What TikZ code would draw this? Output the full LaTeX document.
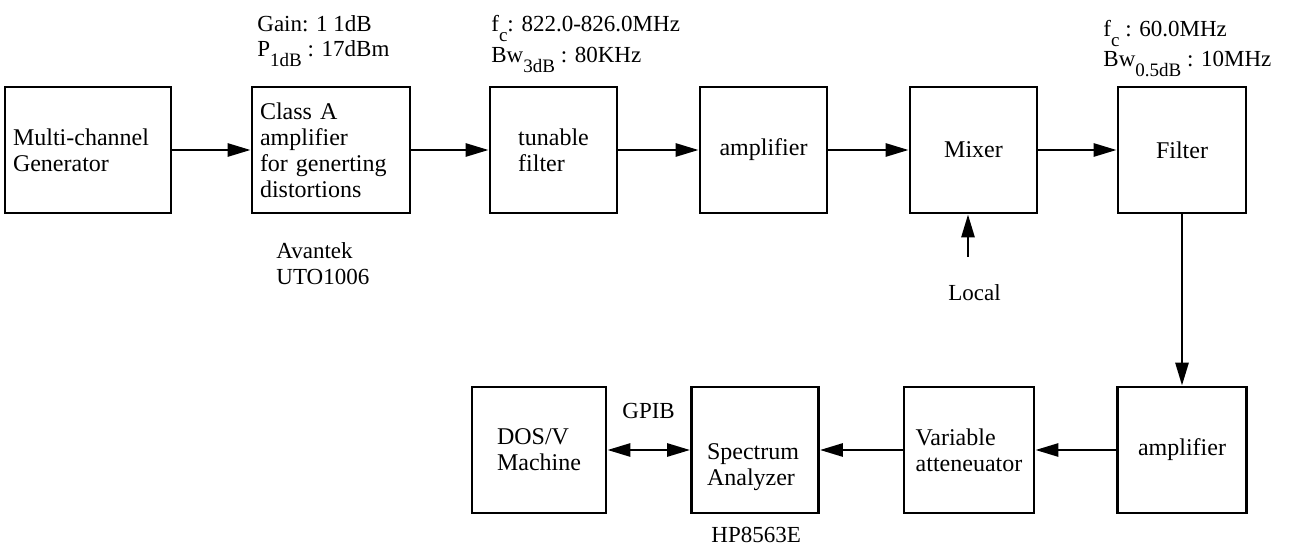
\documentclass[tikz,border=0pt]{standalone}
\usepackage{fontspec}
\setmainfont{Liberation Serif}
\usetikzlibrary{arrows.meta}
% lowered, slightly smaller subscript as used in the specification labels
\newcommand\lowsub[1]{\raisebox{-0.42em}{\fontsize{9.5}{9.5}\selectfont #1}}

\begin{document}
\begin{tikzpicture}[x=0.5pt,y=-0.5pt,
  every node/.style={font=\fontsize{11.5}{12.2}\selectfont},
  block/.style={draw, line width=1.4pt, rectangle, minimum width=63.5pt,
    minimum height=63pt, inner sep=0pt, align=left,
    font=\fontsize{12}{13}\selectfont},
  blocktext/.style={align=left, font=\fontsize{12}{13}\selectfont},
  flow/.style={line width=1.4pt, -{Triangle[length=11.5pt,width=6.5pt]}},
  twoway/.style={line width=1.4pt,
    {Triangle[length=11.5pt,width=6.5pt]}-{Triangle[length=11.5pt,width=6.5pt]}},
  note/.style={anchor=base west, inner sep=0pt}]
\useasboundingbox (0,0) rectangle (1291,545);

% upper signal chain
\node[block, minimum width=83pt, text width=75pt] (gen) at (88,150) {Multi-channel\\Generator};
\node[block, minimum width=79pt, text width=71pt] (cls) at (331,150) {Class A\\amplifier\\for generting\\distortions};
\node[block] (tun) at (553.5,150) {tunable\\filter};
\node[block] (amp1) at (763.5,150) {amplifier};
\node[block] (mix) at (973.5,150) {Mixer};
\node[block, minimum width=64pt] (flt) at (1182,150) {Filter};

% lower measurement chain
\node[block, minimum width=67pt] (dos) at (539,450) {DOS/V\\Machine};
\node[block] (spa) at (755,450) {};
\node[blocktext] (spatx) at (753,467) {Spectrum\\Analyzer};
\node[block, minimum width=65pt] (att) at (969,450) {Variable\\atteneuator};
\node[block, minimum width=64.5pt] (amp2) at (1182,450) {amplifier};

% connectors
\draw[flow] (gen) -- (cls);
\draw[flow] (cls) -- (tun);
\draw[flow] (tun) -- (amp1);
\draw[flow] (amp1) -- (mix);
\draw[flow] (mix) -- (flt);
\draw[flow] (flt) -- (amp2);
\draw[flow] (amp2) -- (att);
\draw[flow] (att) -- (spa);
\draw[twoway] (dos) -- (spa);
\coordinate (lo) at (968,257);
\draw[flow] (lo) -- (lo |- mix.south);

% annotations
\node[note] (gain) at (257,32) {Gain: 1 1dB};
\node[note] (p1db) at (257,57) {P\lowsub{1dB} : 17dBm};
\node[note] (fc1) at (491,32) {f\lowsub{c}: 822.0-826.0MHz};
\node[note] (bw1) at (491,63) {Bw\lowsub{3dB} : 80KHz};
\node[note] (fc2) at (1103,37) {f\lowsub{c} : 60.0MHz};
\node[note] (bw2) at (1103,67) {Bw\lowsub{0.5dB} : 10MHz};
\node[note] (av1) at (276,259) {Avantek};
\node[note] (av2) at (276,285) {UTO1006};
\node[note] (local) at (948,300) {Local};
\node[note] (gpib) at (622,418) {GPIB};
\node[note] (hp) at (711,542) {HP8563E};
\end{tikzpicture}
\end{document}
